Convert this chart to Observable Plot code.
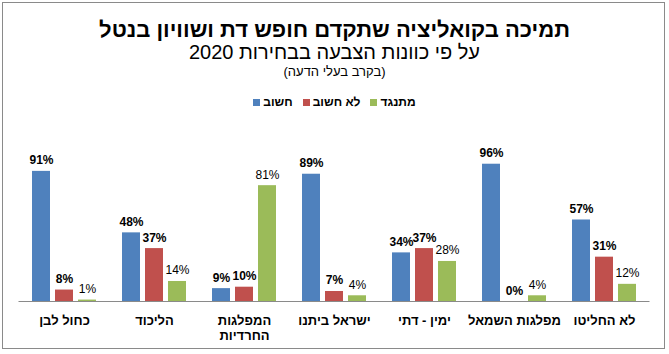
<!DOCTYPE html>
<html>
<head>
<meta charset="utf-8">
<script src="https://cdn.jsdelivr.net/npm/d3@7"></script>
<script src="https://cdn.jsdelivr.net/npm/@observablehq/plot@0.6"></script>
<style>
  html, body { margin: 0; padding: 0; background: #fff; }
  #wrap { position: relative; width: 669px; height: 354px; background: #fff; font-family: "Liberation Sans", Arial, sans-serif; overflow: hidden; }
  #frame { position: absolute; left: 2px; top: 2px; width: 663px; height: 347px; border: 1.5px solid #8a8a8a; box-sizing: border-box; }
  .t { position: absolute; left: 0; width: 669px; text-align: center; color: #000; white-space: nowrap; }
  #title { top: 17px; font-size: 22px; line-height: 26px; font-weight: bold; }
  #sub { top: 40px; font-size: 20px; line-height: 24px; }
  #sub2 { top: 64px; font-size: 13px; line-height: 16px; }
  #legend { position: absolute; top: 95px; left: 0; width: 669px; display: flex; justify-content: center; direction: ltr; font-size: 12px; line-height: 14px; font-weight: bold; }
  #legend .item { display: flex; align-items: center; margin: 0 5px; }
  #legend .sw { width: 7px; height: 7px; margin-right: 3px; }
  #chart { position: absolute; left: 0; top: 110px; }
</style>
</head>
<body>
<div id="wrap">
  <div id="frame"></div>
  <div class="t" id="title" dir="rtl"></div>
  <div class="t" id="sub" dir="rtl"></div>
  <div class="t" id="sub2" dir="rtl"></div>
  <div id="legend"></div>
  <div id="chart"></div>
</div>
<script>
const titleText = "תמיכה בקואליציה שתקדם חופש דת ושוויון בנטל";
const subtitleText = "על פי כוונות הצבעה בבחירות 2020";
const noteText = "(בקרב בעלי הדעה)";

const categories = ["כחול לבן", "הליכוד", "המפלגות\nהחרדיות", "ישראל ביתנו", "ימין - דתי", "מפלגות השמאל", "לא החליטו"];
const series = ["חשוב", "לא חשוב", "מתנגד"];
const colors = ["#4F81BD", "#C0504D", "#9BBB59"];
const important = [91, 48, 9, 89, 34, 96, 57];
const notImportant = [8, 37, 10, 7, 37, 0, 31];
const oppose = [1, 14, 81, 4, 28, 4, 12];

document.getElementById("title").textContent = titleText;
document.getElementById("sub").textContent = subtitleText;
document.getElementById("sub2").textContent = noteText;

const legend = document.getElementById("legend");
series.forEach((s, i) => {
  const item = document.createElement("div");
  item.className = "item";
  const sw = document.createElement("span");
  sw.className = "sw";
  sw.style.background = colors[i];
  const lab = document.createElement("span");
  lab.textContent = s;
  item.appendChild(sw);
  item.appendChild(lab);
  legend.appendChild(item);
});

const valuesBySeries = [important, notImportant, oppose];
const data = [];
categories.forEach((c, ci) => {
  series.forEach((s, si) => {
    data.push({cat: c, series: s, value: valuesBySeries[si][ci]});
  });
});

const chart = Plot.plot({
  width: 669,
  height: 244,
  marginLeft: 17,
  marginRight: 19,
  marginTop: 48,
  marginBottom: 53,
  style: {fontFamily: "Liberation Sans, Arial, sans-serif", background: "transparent", overflow: "visible"},
  fx: {domain: categories, paddingInner: 0.29, paddingOuter: 0.145, label: null},
  x: {domain: series, paddingInner: 0.22, paddingOuter: 0, axis: null},
  y: {domain: [0, 100], axis: null},
  color: {domain: series, range: colors},
  marks: [
    Plot.barY(data, {fx: "cat", x: "series", y: "value", fill: "series"}),
    Plot.ruleY([0], {stroke: "#8a8a8a", strokeWidth: 1, insetLeft: -13.5, insetRight: -13.5}),
    Plot.text(data.filter(d => d.series !== "מתנגד"), {fx: "cat", x: "series", y: "value", text: d => d.value + "%", lineAnchor: "bottom", dy: -7, fontSize: 12, fontWeight: "bold", fill: "#000"}),
    Plot.text(data.filter(d => d.series === "מתנגד"), {fx: "cat", x: "series", y: "value", text: d => d.value + "%", lineAnchor: "bottom", dy: -7, fontSize: 12, fill: "#000"}),
    Plot.axisFx({anchor: "bottom", tickSize: 0, tickPadding: 12, fontSize: 13, fontWeight: "bold", lineHeight: 1.2, label: null, fill: "#000"})
  ]
});
document.getElementById("chart").appendChild(chart);
</script>
</body>
</html>
